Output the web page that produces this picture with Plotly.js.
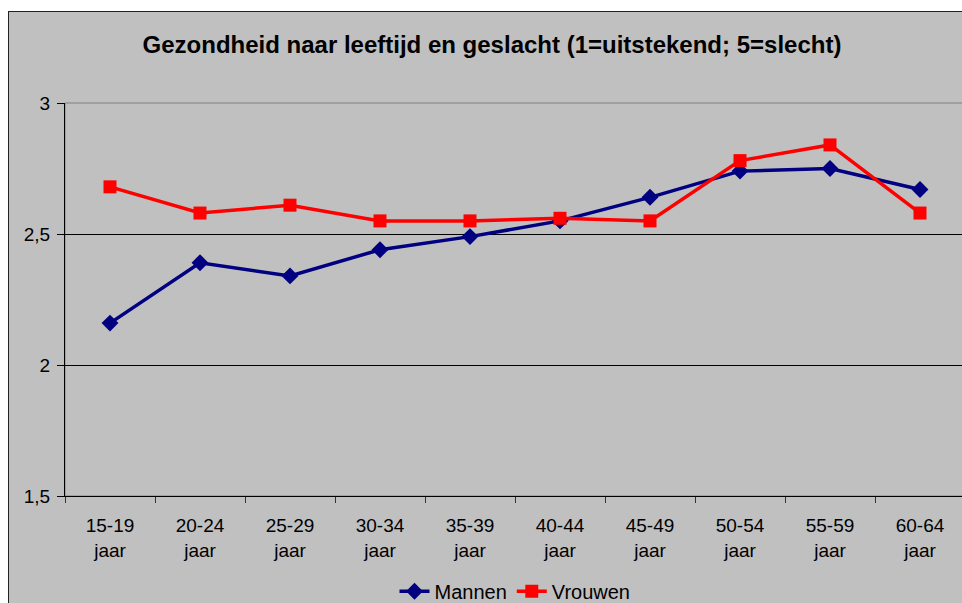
<!DOCTYPE html>
<html>
<head>
<meta charset="utf-8">
<script src="https://cdn.plot.ly/plotly-3.0.1.min.js"></script>
<style>
html,body{margin:0;padding:0;background:#ffffff;overflow:hidden;width:962px;height:603px;}
#wrap{position:absolute;left:8px;top:11px;border-left:1px solid #222;border-top:1px solid #222;}
#chart{width:966px;height:591px;}
</style>
</head>
<body>
<div id="wrap"><div id="chart"></div></div>
<script>
const categories = ["15-19<br>jaar","20-24<br>jaar","25-29<br>jaar","30-34<br>jaar","35-39<br>jaar","40-44<br>jaar","45-49<br>jaar","50-54<br>jaar","55-59<br>jaar","60-64<br>jaar"];
const mannen = [2.16, 2.39, 2.34, 2.44, 2.49, 2.55, 2.64, 2.74, 2.75, 2.67];
const vrouwen = [2.68, 2.58, 2.61, 2.55, 2.55, 2.56, 2.55, 2.78, 2.84, 2.58];
const yTicks = [1.5, 2, 2.5, 3];
const yTickText = ["1,5", "2", "2,5", "3"];
const titleText = "Gezondheid naar leeftijd en geslacht (1=uitstekend; 5=slecht)";

const font = "Liberation Sans, Arial, sans-serif";
const traces = [
  {x: categories, y: mannen, name: "Mannen", type: "scatter", mode: "lines+markers",
   line: {color: "#000080", width: 3.5}, marker: {symbol: "diamond", size: 13, color: "#000080"}},
  {x: categories, y: vrouwen, name: "Vrouwen", type: "scatter", mode: "lines+markers",
   line: {color: "#FF0000", width: 3.5}, marker: {symbol: "square", size: 13, color: "#FF0000"}}
];
const layout = {
  width: 966, height: 591,
  paper_bgcolor: "#C0C0C0", plot_bgcolor: "#C0C0C0",
  margin: {l: 56, r: 10, t: 91, b: 107, autoexpand: false},
  font: {family: font, size: 19, color: "#000"},
  title: {text: "<b>" + titleText + "</b>", x: 0.5, xref: "container", xanchor: "center",
          y: 1 - 33/591, yanchor: "middle",
          font: {family: font, size: 24, color: "#000"}},
  xaxis: {type: "category", range: [-0.5, 9.5], tickson: "boundaries", ticks: "outside", ticklen: 6,
          tickcolor: "#333", showline: true, linecolor: "#000", linewidth: 1, showgrid: false,
          tickfont: {family: font, size: 19}, ticklabelstandoff: 12, fixedrange: true},
  yaxis: {range: [1.5, 3], tickvals: yTicks, ticktext: yTickText, ticks: "outside", ticklen: 7,
          tickcolor: "#000", showline: true, linecolor: "#000", linewidth: 1, showgrid: true,
          gridcolor: "#000", gridwidth: 1, zeroline: false, tickfont: {family: font, size: 19},
          ticklabelstandoff: 3, fixedrange: true},
  shapes: [{type: "rect", xref: "paper", yref: "paper", x0: 0, x1: 1, y0: 0, y1: 1,
            line: {color: "#808080", width: 1}, layer: "below"}],
  showlegend: true,
  legend: {orientation: "h", x: 0.5, xanchor: "center", yref: "container", y: 0.02, yanchor: "middle",
           font: {family: font, size: 20}, bgcolor: "rgba(0,0,0,0)", itemwidth: 30, tracegroupgap: 0}
};
Plotly.newPlot("chart", traces, layout, {displayModeBar: false, staticPlot: true});
</script>
</body>
</html>
